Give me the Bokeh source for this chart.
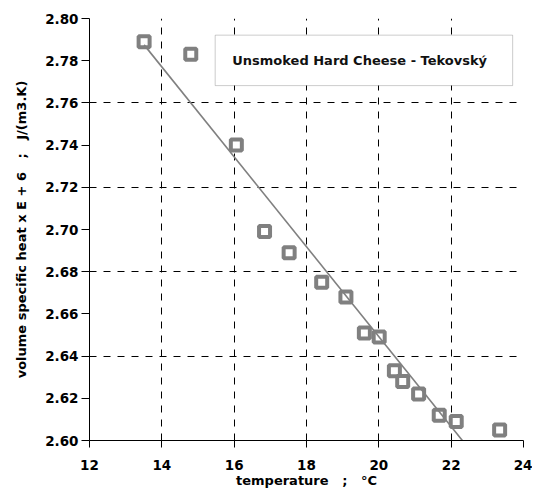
from bokeh.plotting import figure
from bokeh.models import FixedTicker, PrintfTickFormatter, Range1d, BoxAnnotation, Label
from bokeh.embed import file_html
from bokeh.resources import INLINE

# --- data ---
temperature = [13.51, 14.80, 16.06, 16.84, 17.52, 18.42, 19.09, 19.60, 20.01,
               20.43, 20.66, 21.10, 21.67, 22.14, 23.34]
heat = [2.789, 2.783, 2.740, 2.699, 2.689, 2.675, 2.668, 2.651, 2.649,
        2.633, 2.628, 2.622, 2.612, 2.609, 2.605]
fit_x = [13.51, 22.31]
fit_y = [2.7875, 2.600]
x_ticks = [12, 14, 16, 18, 20, 22, 24]
y_ticks = [2.60, 2.62, 2.64, 2.66, 2.68, 2.70, 2.72, 2.74, 2.76, 2.78, 2.80]
y_grid = [2.60, 2.64, 2.68, 2.72, 2.76, 2.80]
title_text = "Unsmoked Hard Cheese - Tekovský"
NB = "\u00a0"
x_label = "temperature" + NB * 3 + ";" + NB * 3 + "°C"
y_label = "volume specific heat x E + 6" + NB * 3 + ";" + NB * 3 + "J/(m3.K)"

FONT = "DejaVu Sans"
GRAY = "#808080"

p = figure(width=532, height=500, output_backend="svg", toolbar_location=None,
           x_range=Range1d(12, 24), y_range=Range1d(2.60, 2.80),
           min_border_left=89, min_border_right=9, min_border_top=18,
           min_border_bottom=60)
p.outline_line_color = None
p.background_fill_color = "white"
p.border_fill_color = "white"

p.axis.axis_line_color = "black"
p.axis.axis_line_width = 1
p.axis.major_tick_line_color = "black"
p.axis.minor_tick_line_color = None
p.axis.major_tick_in = 0
p.axis.major_label_text_font = FONT
p.axis.major_label_text_font_style = "bold"
p.axis.major_label_text_font_size = "13.5px"
p.axis.major_label_text_color = "black"
p.axis.axis_label_text_font = FONT
p.axis.axis_label_text_font_style = "bold"
p.axis.axis_label_text_font_size = "13px"
p.axis.axis_label_text_color = "black"

p.xaxis.ticker = FixedTicker(ticks=x_ticks)
p.yaxis.ticker = FixedTicker(ticks=y_ticks)
p.yaxis.formatter = PrintfTickFormatter(format="%.2f")
p.xaxis.major_tick_out = 7
p.yaxis.major_tick_out = 8
p.xaxis.major_label_standoff = 12
p.yaxis.major_label_standoff = 3
p.xaxis.axis_label = x_label
p.yaxis.axis_label = y_label
p.xaxis.axis_label_standoff = 0
p.yaxis.axis_label_standoff = 13

p.xgrid.ticker = FixedTicker(ticks=x_ticks)
p.ygrid.ticker = FixedTicker(ticks=y_grid)
p.grid.grid_line_color = "black"
p.grid.grid_line_width = 1
p.grid.grid_line_dash = "7 7"

p.scatter(temperature, heat, marker="square", size=11, line_width=4,
          line_color=GRAY, fill_color="white")
p.line(fit_x, fit_y, line_color=GRAY, line_width=1.6)

box = BoxAnnotation(left=15.475, right=23.70, bottom=2.7682, top=2.7921,
                    fill_color="white", fill_alpha=1.0,
                    line_color="#555555", line_width=1)
p.add_layout(box)
p.add_layout(Label(x=19.47, y=2.7801, text=title_text, text_font=FONT,
                   text_font_style="bold", text_font_size="13px",
                   text_color="#111111", text_align="center",
                   text_baseline="middle"))

open("out.html", "w").write(file_html(p, INLINE))
